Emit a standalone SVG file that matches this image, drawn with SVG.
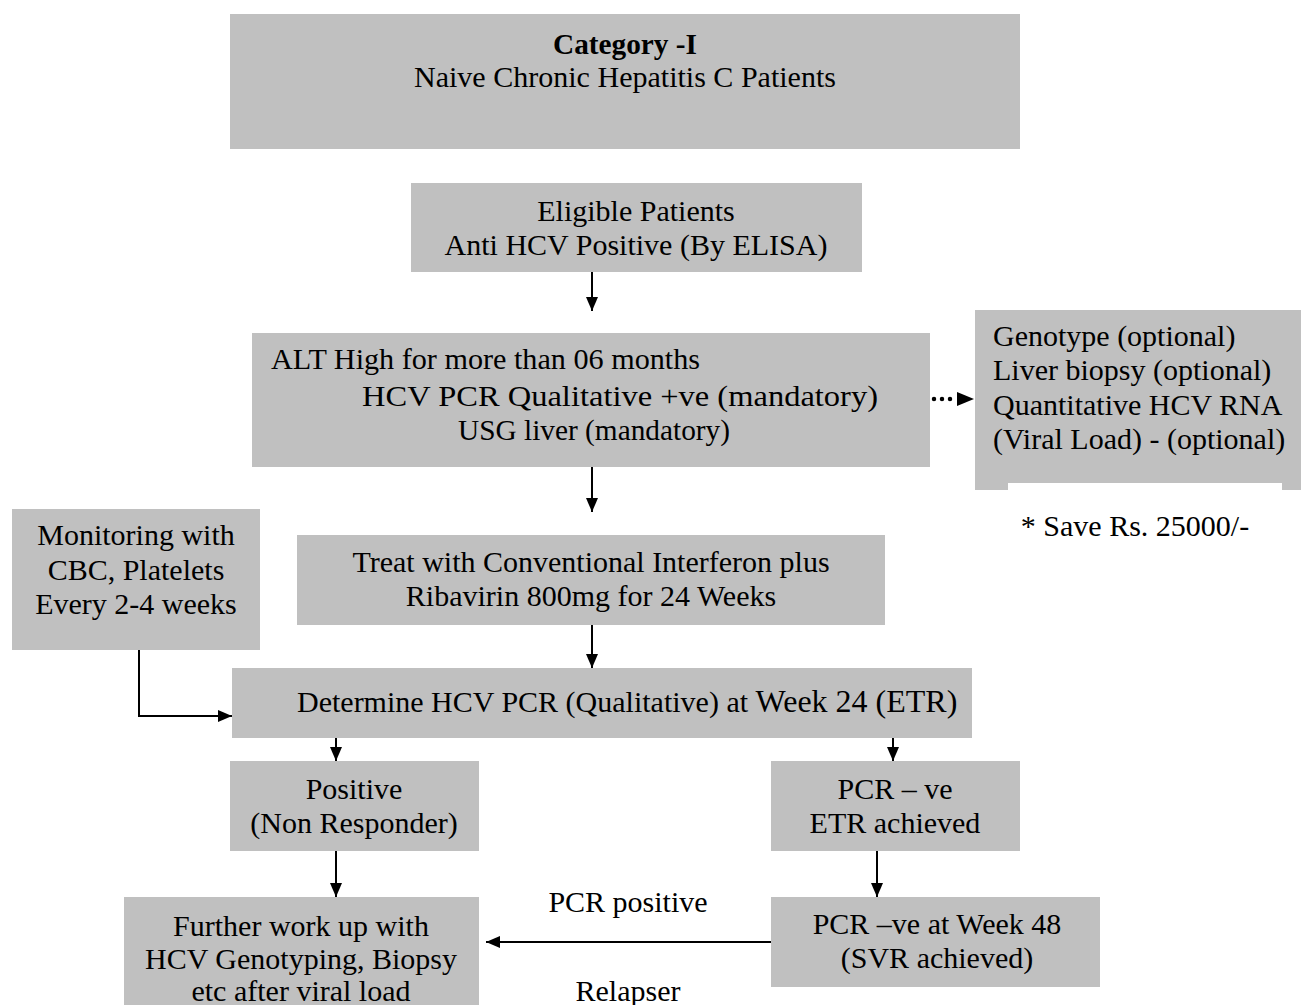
<svg xmlns="http://www.w3.org/2000/svg" width="1301" height="1005" viewBox="0 0 1301 1005">
<style>
.box{fill:#c0c0c0}
.t{font-family:"Liberation Serif","Times New Roman",serif;font-size:30px;fill:#000}
.c{text-anchor:middle}
.ln{stroke:#000;stroke-width:2;fill:none}
</style>
<defs>
<marker id="ah" markerUnits="userSpaceOnUse" markerWidth="14" markerHeight="12" refX="14" refY="6" orient="auto">
<path d="M0,0 L14,6 L0,12 z" fill="#000"/>
</marker>
</defs>
<rect width="1301" height="1005" fill="#fff"/>
<g id="connectors">
<line class="ln" x1="592" y1="272" x2="592" y2="311" marker-end="url(#ah)"/>
<line class="ln" x1="592" y1="467" x2="592" y2="512" marker-end="url(#ah)"/>
<line class="ln" x1="592" y1="625" x2="592" y2="668" marker-end="url(#ah)"/>
<polyline class="ln" points="139,650 139,716 232,716" marker-end="url(#ah)"/>
<line class="ln" x1="336" y1="738" x2="336" y2="761" marker-end="url(#ah)"/>
<line class="ln" x1="893" y1="738" x2="893" y2="761" marker-end="url(#ah)"/>
<line class="ln" x1="336" y1="851" x2="336" y2="897" marker-end="url(#ah)"/>
<line class="ln" x1="877" y1="851" x2="877" y2="897" marker-end="url(#ah)"/>
<line class="ln" x1="771" y1="942" x2="486" y2="942" marker-end="url(#ah)"/>
<line x1="934" y1="399" x2="955" y2="399" stroke="#000" stroke-width="4.5" stroke-linecap="round" stroke-dasharray="0 8"/>
<path d="M957,392 L974,399 L957,406 z" fill="#000"/>
</g>
<g id="n-category">
<rect class="box" x="230" y="14" width="790" height="135"/>
<text class="t c" x="625" y="54" font-weight="bold" font-size="32" textLength="144" lengthAdjust="spacingAndGlyphs">Category -I</text>
<text class="t c" x="625" y="87" font-size="33" textLength="422" lengthAdjust="spacingAndGlyphs">Naive Chronic Hepatitis C Patients</text>
</g>
<g id="n-eligible">
<rect class="box" x="411" y="183" width="451" height="89"/>
<text class="t c" x="636" y="221">Eligible Patients</text>
<text class="t c" x="636" y="255">Anti HCV Positive (By ELISA)</text>
</g>
<g id="n-alt">
<rect class="box" x="252" y="333" width="678" height="134"/>
<text class="t" x="271" y="369" textLength="429" lengthAdjust="spacingAndGlyphs">ALT High for more than 06 months</text>
<text class="t c" x="620" y="406" textLength="516" lengthAdjust="spacingAndGlyphs">HCV PCR Qualitative +ve (mandatory)</text>
<text class="t c" x="594" y="440" textLength="272" lengthAdjust="spacingAndGlyphs">USG liver (mandatory)</text>
</g>
<g id="n-optional">
<rect class="box" x="975" y="310" width="326" height="180"/>
<rect x="1008" y="483" width="274" height="60" fill="#fff"/>
<text class="t" x="993" y="346">Genotype (optional)</text>
<text class="t" x="993" y="380">Liver biopsy (optional)</text>
<text class="t" x="993" y="415">Quantitative HCV RNA</text>
<text class="t" x="993" y="449">(Viral Load) - (optional)</text>
<text class="t c" x="1135" y="536">* Save Rs. 25000/-</text>
</g>
<g id="n-monitoring">
<rect class="box" x="12" y="509" width="248" height="141"/>
<text class="t c" x="136" y="545">Monitoring with</text>
<text class="t c" x="136" y="580">CBC, Platelets</text>
<text class="t c" x="136" y="614">Every 2-4 weeks</text>
</g>
<g id="n-treat">
<rect class="box" x="297" y="535" width="588" height="90"/>
<text class="t c" x="591" y="572">Treat with Conventional Interferon plus</text>
<text class="t c" x="591" y="606">Ribavirin 800mg for 24 Weeks</text>
</g>
<g id="n-determine">
<rect class="box" x="232" y="668" width="740" height="70"/>
<text class="t" x="297" y="712">Determine HCV PCR (Qualitative) at <tspan font-size="32">Week 24 (ETR)</tspan></text>
</g>
<g id="n-positive">
<rect class="box" x="230" y="761" width="249" height="90"/>
<text class="t c" x="354" y="799">Positive</text>
<text class="t c" x="354" y="833">(Non Responder)</text>
</g>
<g id="n-etr">
<rect class="box" x="771" y="761" width="249" height="90"/>
<text class="t c" x="895" y="799">PCR – ve</text>
<text class="t c" x="895" y="833">ETR achieved</text>
</g>
<g id="n-further">
<rect class="box" x="124" y="897" width="355" height="108"/>
<text class="t c" x="301" y="936">Further work up with</text>
<text class="t c" x="301" y="969">HCV Genotyping, Biopsy</text>
<text class="t c" x="301" y="1001">etc after viral load</text>
</g>
<g id="n-svr">
<rect class="box" x="771" y="897" width="329" height="90"/>
<text class="t c" x="937" y="934">PCR –ve at Week 48</text>
<text class="t c" x="937" y="968">(SVR achieved)</text>
</g>
<g id="labels">
<text class="t c" x="628" y="912">PCR positive</text>
<text class="t c" x="628" y="1001">Relapser</text>
</g>
</svg>
